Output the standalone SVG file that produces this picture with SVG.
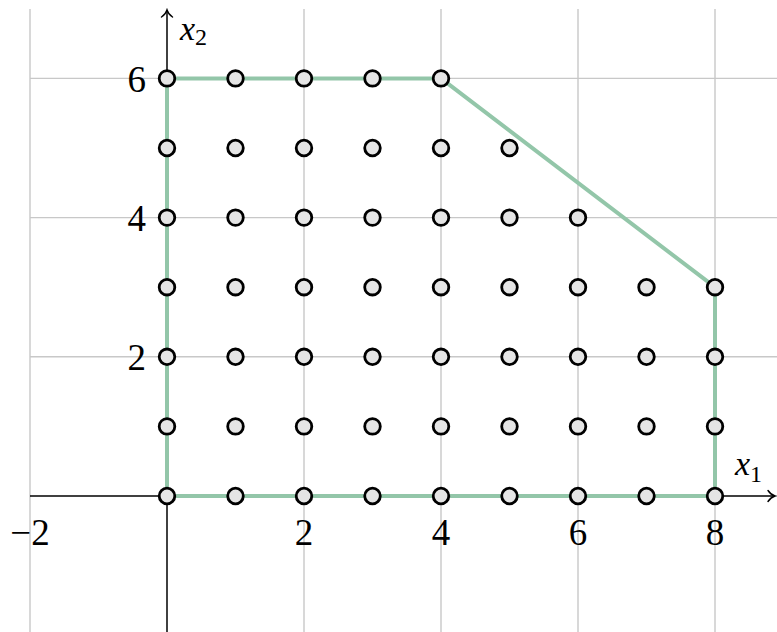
<svg xmlns="http://www.w3.org/2000/svg" width="777" height="632" viewBox="0 0 777 632">
<style>
.grid{stroke:#c8c8c8;stroke-width:1.4;fill:none}
.axis{stroke:#000;stroke-width:1.4;fill:none}
.edge{stroke:#93c6a9;stroke-width:4;fill:none;stroke-linejoin:round}
.pt{fill:#e5e5e5;stroke:#000;stroke-width:2.8}
.tick{font-size:37px;fill:#000}
.var{font-size:34px;font-style:italic;fill:#000}
.sub{font-size:24px;font-style:normal}
</style>
<defs>
<marker id="arr" markerUnits="userSpaceOnUse" viewBox="-10 -7 12 14" refX="0" refY="0" markerWidth="12" markerHeight="14" orient="auto">
<path d="M -7 -5.5 C -5 -2.5 -2 -0.6 0 0 C -2 0.6 -5 2.5 -7 5.5" fill="none" stroke="#000" stroke-width="1.4" stroke-linecap="round"/>
</marker>
</defs>
<rect width="777" height="632" fill="#fff"/>
<g id="grid">
<path class="grid" d="M30 9V632M167 9V632M304 9V632M441 9V632M578 9V632M715 9V632"/>
<path class="grid" d="M30 78.4H777M30 217.6H777M30 356.8H777"/>
</g>
<g id="axes">
<line class="axis" x1="30" y1="496" x2="775" y2="496" marker-end="url(#arr)"/>
<line class="axis" x1="167" y1="632" x2="167" y2="10" marker-end="url(#arr)"/>
</g>
<g id="connectors">
<path class="edge" d="M167 496H715V287.2L441 78.4H167Z"/>
</g>
<g id="labels" font-family="'Liberation Serif', 'Times New Roman', serif">
<text class="tick" x="30" y="545" text-anchor="middle">−2</text>
<text class="tick" x="304" y="545" text-anchor="middle">2</text>
<text class="tick" x="441" y="545" text-anchor="middle">4</text>
<text class="tick" x="578" y="545" text-anchor="middle">6</text>
<text class="tick" x="715" y="545" text-anchor="middle">8</text>
<text class="tick" x="146" y="370" text-anchor="end">2</text>
<text class="tick" x="146" y="230.5" text-anchor="end">4</text>
<text class="tick" x="146" y="91.5" text-anchor="end">6</text>
<text class="var" x="735" y="475">x<tspan class="sub" dy="7">1</tspan></text>
<text class="var" x="180" y="40">x<tspan class="sub" dy="5">2</tspan></text>
</g>
<g id="points">
<g id="p0-0"><circle class="pt" cx="167" cy="496" r="7.8"/></g>
<g id="p1-0"><circle class="pt" cx="235.5" cy="496" r="7.8"/></g>
<g id="p2-0"><circle class="pt" cx="304" cy="496" r="7.8"/></g>
<g id="p3-0"><circle class="pt" cx="372.5" cy="496" r="7.8"/></g>
<g id="p4-0"><circle class="pt" cx="441" cy="496" r="7.8"/></g>
<g id="p5-0"><circle class="pt" cx="509.5" cy="496" r="7.8"/></g>
<g id="p6-0"><circle class="pt" cx="578" cy="496" r="7.8"/></g>
<g id="p7-0"><circle class="pt" cx="646.5" cy="496" r="7.8"/></g>
<g id="p8-0"><circle class="pt" cx="715" cy="496" r="7.8"/></g>
<g id="p0-1"><circle class="pt" cx="167" cy="426.4" r="7.8"/></g>
<g id="p1-1"><circle class="pt" cx="235.5" cy="426.4" r="7.8"/></g>
<g id="p2-1"><circle class="pt" cx="304" cy="426.4" r="7.8"/></g>
<g id="p3-1"><circle class="pt" cx="372.5" cy="426.4" r="7.8"/></g>
<g id="p4-1"><circle class="pt" cx="441" cy="426.4" r="7.8"/></g>
<g id="p5-1"><circle class="pt" cx="509.5" cy="426.4" r="7.8"/></g>
<g id="p6-1"><circle class="pt" cx="578" cy="426.4" r="7.8"/></g>
<g id="p7-1"><circle class="pt" cx="646.5" cy="426.4" r="7.8"/></g>
<g id="p8-1"><circle class="pt" cx="715" cy="426.4" r="7.8"/></g>
<g id="p0-2"><circle class="pt" cx="167" cy="356.8" r="7.8"/></g>
<g id="p1-2"><circle class="pt" cx="235.5" cy="356.8" r="7.8"/></g>
<g id="p2-2"><circle class="pt" cx="304" cy="356.8" r="7.8"/></g>
<g id="p3-2"><circle class="pt" cx="372.5" cy="356.8" r="7.8"/></g>
<g id="p4-2"><circle class="pt" cx="441" cy="356.8" r="7.8"/></g>
<g id="p5-2"><circle class="pt" cx="509.5" cy="356.8" r="7.8"/></g>
<g id="p6-2"><circle class="pt" cx="578" cy="356.8" r="7.8"/></g>
<g id="p7-2"><circle class="pt" cx="646.5" cy="356.8" r="7.8"/></g>
<g id="p8-2"><circle class="pt" cx="715" cy="356.8" r="7.8"/></g>
<g id="p0-3"><circle class="pt" cx="167" cy="287.2" r="7.8"/></g>
<g id="p1-3"><circle class="pt" cx="235.5" cy="287.2" r="7.8"/></g>
<g id="p2-3"><circle class="pt" cx="304" cy="287.2" r="7.8"/></g>
<g id="p3-3"><circle class="pt" cx="372.5" cy="287.2" r="7.8"/></g>
<g id="p4-3"><circle class="pt" cx="441" cy="287.2" r="7.8"/></g>
<g id="p5-3"><circle class="pt" cx="509.5" cy="287.2" r="7.8"/></g>
<g id="p6-3"><circle class="pt" cx="578" cy="287.2" r="7.8"/></g>
<g id="p7-3"><circle class="pt" cx="646.5" cy="287.2" r="7.8"/></g>
<g id="p8-3"><circle class="pt" cx="715" cy="287.2" r="7.8"/></g>
<g id="p0-4"><circle class="pt" cx="167" cy="217.6" r="7.8"/></g>
<g id="p1-4"><circle class="pt" cx="235.5" cy="217.6" r="7.8"/></g>
<g id="p2-4"><circle class="pt" cx="304" cy="217.6" r="7.8"/></g>
<g id="p3-4"><circle class="pt" cx="372.5" cy="217.6" r="7.8"/></g>
<g id="p4-4"><circle class="pt" cx="441" cy="217.6" r="7.8"/></g>
<g id="p5-4"><circle class="pt" cx="509.5" cy="217.6" r="7.8"/></g>
<g id="p6-4"><circle class="pt" cx="578" cy="217.6" r="7.8"/></g>
<g id="p0-5"><circle class="pt" cx="167" cy="148" r="7.8"/></g>
<g id="p1-5"><circle class="pt" cx="235.5" cy="148" r="7.8"/></g>
<g id="p2-5"><circle class="pt" cx="304" cy="148" r="7.8"/></g>
<g id="p3-5"><circle class="pt" cx="372.5" cy="148" r="7.8"/></g>
<g id="p4-5"><circle class="pt" cx="441" cy="148" r="7.8"/></g>
<g id="p5-5"><circle class="pt" cx="509.5" cy="148" r="7.8"/></g>
<g id="p0-6"><circle class="pt" cx="167" cy="78.4" r="7.8"/></g>
<g id="p1-6"><circle class="pt" cx="235.5" cy="78.4" r="7.8"/></g>
<g id="p2-6"><circle class="pt" cx="304" cy="78.4" r="7.8"/></g>
<g id="p3-6"><circle class="pt" cx="372.5" cy="78.4" r="7.8"/></g>
<g id="p4-6"><circle class="pt" cx="441" cy="78.4" r="7.8"/></g>
</g>
</svg>
